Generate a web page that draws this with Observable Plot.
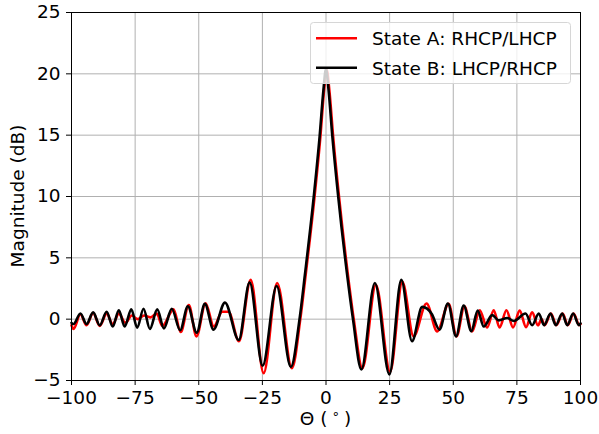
<!DOCTYPE html>
<html>
<head>
<meta charset="utf-8">
<script src="https://cdn.jsdelivr.net/npm/d3@7"></script>
<script src="https://cdn.jsdelivr.net/npm/@observablehq/plot@0.6"></script>
<style>
  html, body { margin: 0; padding: 0; background: #fff; }
  svg { display: block; }
</style>
</head>
<body>
<div id="chart"></div>
<script>
// Series A (red): RHCP/LHCP — [theta (deg), magnitude (dB)] read at extrema
const thetaA = [-100,-99.2,-96.5,-94.1,-91.5,-88.9,-86.2,-83.8,-81.4,-78.8,-76.3,-74.0,-71.5,-69.0,-66.5,-64.3,-59.9,-57.1,-53.9,-50.9,-47.3,-44.1,-40.8,-38.3,-34.2,-29.6,-24.5,-19.2,-13.4,-10.1,-8.0,-4.5,-2.2,-0.7,0.3,1.3,2.8,5.1,8.5,10.9,14.3,19.6,25.2,30.0,34.4,39.5,43.7,48.2,51.3,54.4,57.4,60.4,63.3,65.9,68.2,70.9,73.5,76.1,78.6,81.0,83.3,84.7,85.9,88.4,90.5,93.0,95.0,97.3,99.5,100];
const magA   = [-0.5,-0.8,0.4,-0.5,0.5,-0.55,0.45,-0.4,0.45,-0.3,0.3,0.0,0.3,0.15,0.45,-0.55,0.8,-1.05,1.15,-1.4,1.3,-0.6,0.6,0.6,-1.8,3.2,-4.4,2.95,-4.0,0,3.6,10,14.9,18.8,20.3,18.7,14.9,10,3.8,0,-4.0,2.8,-4.3,3.05,-1.4,1.28,-1.0,1.25,-1.4,1.05,-1.0,0.73,-0.68,0.73,-0.68,0.73,-0.68,0.7,-0.65,0.55,-0.5,0.0,-0.49,0.46,-0.49,0.46,-0.49,0.46,-0.49,-0.4];

// Series B (black): LHCP/RHCP
const thetaB = [-100,-99.2,-96.5,-94.1,-91.5,-88.9,-86.2,-83.8,-81.4,-79.1,-76.5,-74.2,-71.7,-69.2,-66.3,-63.7,-60.6,-57.3,-54.3,-50.8,-47.6,-44.2,-39.7,-34.3,-30.0,-24.9,-19.4,-13.8,-10.4,-8.3,-4.8,-2.5,-1.0,0,1.0,2.5,4.8,8.2,10.6,13.9,19.2,24.9,29.6,33.8,37.8,41.5,44.6,47.9,51.1,54.1,57.1,59.6,62.0,65.3,67.9,71.2,73.8,78.4,81.0,83.6,85.7,88.2,90.3,92.8,94.8,97.1,99.4,100];
const magB   = [-0.3,-0.4,0.46,-0.4,0.55,-0.5,0.6,-0.6,0.73,-0.6,0.8,-0.7,0.85,-0.8,0.8,-0.75,0.85,-0.9,1.05,-1.1,1.25,-0.85,1.35,-1.7,3.0,-3.8,2.7,-3.9,0,3.6,10,14.9,18.7,20.4,18.7,14.9,10,3.8,0,-4.1,2.95,-4.5,3.2,-1.8,1.0,0.45,-0.85,1.28,-1.4,1.12,-0.98,0.7,-0.6,0.33,-0.1,0.1,-0.15,0.46,-0.49,0.46,-0.49,0.46,-0.49,0.46,-0.49,0.46,-0.49,-0.35];

const xTicks = [-100,-75,-50,-25,0,25,50,75,100];
const yTicks = [-5,0,5,10,15,20,25];
const seriesNames = ["State A: RHCP/LHCP", "State B: LHCP/RHCP"];
const seriesColors = ["#ff0000", "#000000"];

const dataA = thetaA.map((t, i) => ({theta: t, mag: magA[i]}));
const dataB = thetaB.map((t, i) => ({theta: t, mag: magB[i]}));

const FONT = "DejaVu Sans, sans-serif";
const FS = 18.5;

const svg = Plot.plot({
  width: 599,
  height: 434,
  marginLeft: 71,
  marginRight: 19,
  marginTop: 12,
  marginBottom: 54,
  style: {fontFamily: FONT, fontSize: FS + "px", color: "#000", background: "#fff"},
  x: {domain: [-100, 100]},
  y: {domain: [-5, 25]},
  marks: [
    Plot.gridX(xTicks, {stroke: "#b0b0b0", strokeOpacity: 1, strokeWidth: 1}),
    Plot.gridY(yTicks, {stroke: "#b0b0b0", strokeOpacity: 1, strokeWidth: 1}),
    Plot.line(dataA, {x: "theta", y: "mag", stroke: seriesColors[0], strokeWidth: 2.6, curve: "monotone-x"}),
    Plot.line(dataB, {x: "theta", y: "mag", stroke: seriesColors[1], strokeWidth: 2.6, curve: "monotone-x"}),
    Plot.frame({stroke: "#000", strokeWidth: 1}),
    Plot.axisX(xTicks, {tickSize: 5, tickPadding: 5, label: null, fontSize: FS}),
    Plot.axisY(yTicks, {tickSize: 5, tickPadding: 6, label: null, fontSize: FS})
  ]
});

const s = d3.select(svg);
s.selectAll("text").attr("font-size", FS + "px").attr("font-family", FONT);

// Axis titles
const xl = s.append("text")
  .attr("x", 325.5).attr("y", 425)
  .attr("text-anchor", "middle")
  .attr("font-family", FONT)
  .attr("font-size", FS + "px").attr("fill", "#000");
xl.append("tspan").text("Θ (");
xl.append("tspan").attr("font-size", "13px").attr("dy", "-7").text(" ∘ ");
xl.append("tspan").attr("dy", "7").text(")");

s.append("text")
  .attr("transform", "translate(24,196) rotate(-90)")
  .attr("text-anchor", "middle")
  .attr("font-family", FONT)
  .attr("font-size", FS + "px").attr("fill", "#000")
  .text("Magnitude (dB)");

// Legend
const lg = s.append("g");
lg.append("rect")
  .attr("x", 310.5).attr("y", 22.5).attr("width", 260).attr("height", 61).attr("rx", 3)
  .attr("fill", "#fff").attr("fill-opacity", 0.8).attr("stroke", "#d6d6d6");
seriesNames.forEach((name, i) => {
  const y = 38.3 + i * 29.5;
  lg.append("line").attr("x1", 316).attr("x2", 357).attr("y1", y).attr("y2", y)
    .attr("stroke", seriesColors[i]).attr("stroke-width", 2.6);
  lg.append("text").attr("x", 372).attr("y", y + 7)
    .attr("text-anchor", "start")
    .attr("font-family", FONT).attr("font-size", FS + "px").attr("fill", "#000")
    .text(name);
});

document.getElementById("chart").appendChild(svg);
</script>
</body>
</html>
